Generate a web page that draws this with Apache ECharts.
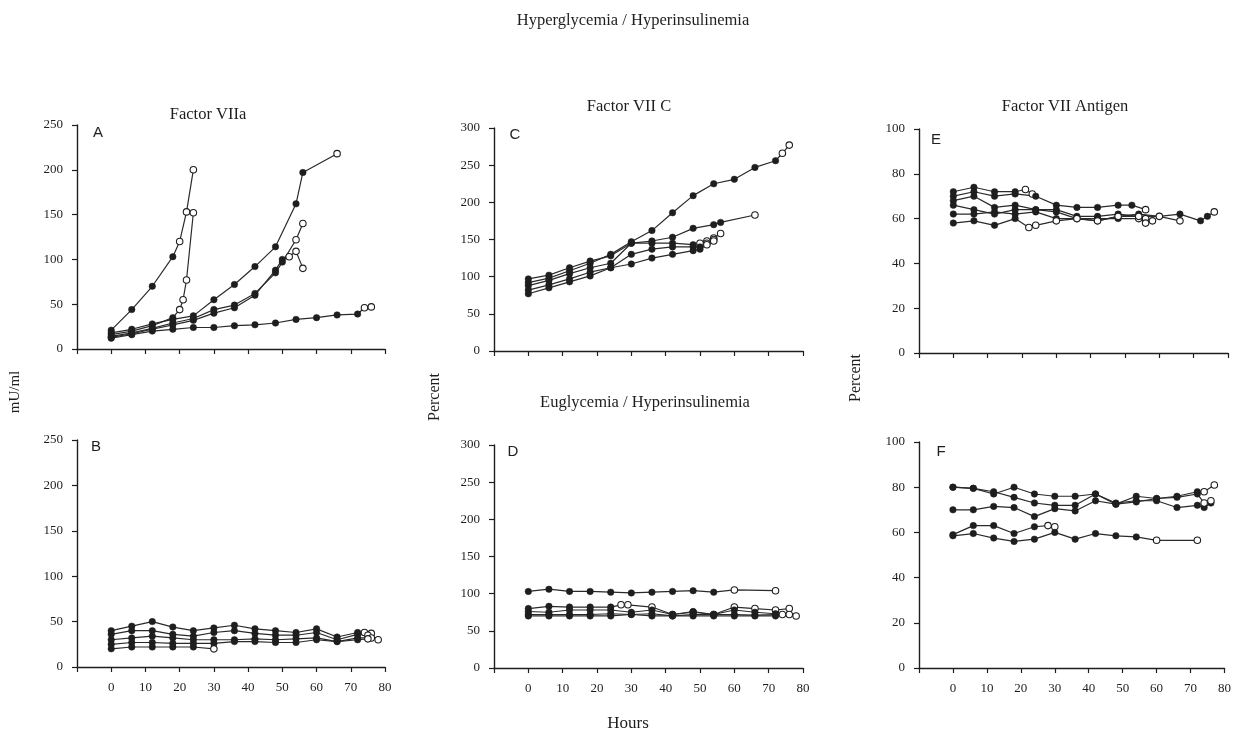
<!DOCTYPE html>
<html>
<head>
<meta charset="utf-8">
<script src="https://cdn.jsdelivr.net/npm/echarts@6/dist/echarts.min.js"></script>
<style>
html,body{margin:0;padding:0;background:#fff;}
#chart{width:1234px;height:733px;}
</style>
</head>
<body>
<div id="chart"></div>
<script>
// ---------- DATA ----------
const hourTicks = [0, 10, 20, 30, 40, 50, 60, 70, 80];

// Panel A: Factor VIIa, hyperglycemia (mU/ml)
const A_hours = [
  [0, 6, 12, 18, 20, 22, 24],
  [0, 6, 12, 18, 20, 21, 22, 24],
  [0, 6, 12, 18, 24, 30, 36, 42, 48, 54, 56, 66],
  [0, 6, 12, 18, 24, 30, 36, 42, 48, 50, 52, 54, 56],
  [0, 6, 12, 18, 24, 30, 36, 42, 48, 50, 54, 56],
  [0, 6, 12, 18, 24, 30, 36, 42, 48, 54, 60, 66, 72, 74, 76]
];
const A_values = [
  [21, 44, 70, 103, 120, 153, 200],
  [16, 20, 26, 35, 44, 55, 77, 152],
  [18, 22, 28, 33, 37, 55, 72, 92, 114, 162, 197, 218],
  [13, 17, 22, 27, 32, 40, 46, 60, 88, 100, 103, 109, 90],
  [14, 18, 23, 29, 34, 44, 49, 62, 85, 97, 122, 140],
  [12, 16, 20, 22, 24, 24, 26, 27, 29, 33, 35, 38, 39, 46, 47]
];
const A_openFrom = [4, 4, 11, 10, 10, 13];

// Panel B: Factor VIIa, euglycemia (mU/ml)
const B_hours = [
  [0, 6, 12, 18, 24, 30, 36, 42, 48, 54, 60, 66, 72, 74, 76],
  [0, 6, 12, 18, 24, 30, 36, 42, 48, 54, 60, 66, 72, 75],
  [0, 6, 12, 18, 24, 30, 36, 42, 48, 54, 60, 66, 72, 76, 78],
  [0, 6, 12, 18, 24, 30, 36, 42, 48, 54, 60, 66, 72, 75],
  [0, 6, 12, 18, 24, 30]
];
const B_values = [
  [40, 45, 50, 44, 40, 43, 46, 42, 40, 38, 42, 33, 38, 38, 37],
  [36, 40, 40, 36, 34, 38, 40, 37, 35, 35, 38, 30, 36, 35],
  [30, 32, 34, 32, 30, 30, 30, 31, 30, 31, 32, 28, 32, 32, 30],
  [25, 27, 27, 26, 26, 26, 28, 28, 27, 27, 30, 28, 30, 31],
  [20, 22, 22, 22, 22, 20]
];
const B_openFrom = [13, 13, 13, 13, 5];

// Panel C: Factor VII C, hyperglycemia (Percent)
const C_hours = [
  [0, 6, 12, 18, 24, 30, 36, 42, 48, 54, 60, 66, 72, 74, 76],
  [0, 6, 12, 18, 24, 30, 36, 42, 48, 54, 56, 66],
  [0, 6, 12, 18, 24, 30, 36, 42, 48, 50, 52, 54, 56],
  [0, 6, 12, 18, 24, 30, 36, 42, 48, 50, 52, 54],
  [0, 6, 12, 18, 24, 30, 36, 42, 48, 50, 52, 54]
];
const C_values = [
  [92, 98, 108, 118, 130, 147, 162, 186, 209, 225, 231, 247, 256, 266, 277],
  [97, 102, 112, 121, 128, 145, 148, 153, 165, 170, 173, 183],
  [88, 95, 104, 112, 118, 145, 145, 145, 143, 145, 148, 152, 158],
  [82, 89, 97, 106, 112, 130, 137, 140, 140, 140, 145, 150],
  [77, 85, 93, 101, 112, 117, 125, 130, 135, 137, 143, 148]
];
const C_openFrom = [13, 11, 9, 10, 10];

// Panel D: Factor VII C, euglycemia (Percent)
const D_hours = [
  [0, 6, 12, 18, 24, 30, 36, 42, 48, 54, 60, 72],
  [0, 6, 12, 18, 24, 27, 29, 36, 42, 48, 54, 60, 66, 72, 76],
  [0, 6, 12, 18, 24, 30, 36, 42, 48, 54, 60, 66, 72, 76],
  [0, 6, 12, 18, 24, 30, 36, 42, 48, 54, 60, 66, 72, 78],
  [0, 6, 12, 18, 24, 30, 36, 42, 48, 54, 60, 66, 72, 74]
];
const D_values = [
  [103, 106, 103, 103, 102, 101, 102, 103, 104, 102, 105, 104],
  [80, 83, 82, 82, 82, 85, 85, 82, 72, 75, 72, 82, 80, 78, 80],
  [76, 75, 78, 78, 78, 75, 78, 72, 76, 72, 78, 75, 73, 72],
  [72, 72, 72, 72, 73, 72, 73, 70, 72, 72, 72, 71, 72, 70],
  [70, 70, 70, 70, 70, 72, 70, 70, 70, 70, 70, 70, 70, 72]
];
const D_openFrom = [10, 5, 13, 13, 13];

// Panel E: Factor VII Antigen, hyperglycemia (Percent)
const E_hours = [
  [0, 6, 12, 18, 21, 23],
  [0, 6, 12, 18, 24, 30, 36, 42, 48, 52, 56],
  [0, 6, 12, 18, 24, 30, 36, 42, 48, 54, 56, 58],
  [0, 6, 12, 18, 24, 30, 36, 42, 48, 54, 60, 66, 72, 74, 76],
  [0, 6, 12, 18, 24, 30, 36, 42, 48, 54, 56],
  [0, 6, 12, 18, 22, 24, 30, 36, 42, 48, 54, 60, 66]
];
const E_values = [
  [72, 74, 72, 72, 73, 71],
  [70, 72, 70, 71, 70, 66, 65, 65, 66, 66, 64],
  [68, 70, 65, 66, 64, 64, 61, 61, 62, 61, 60, 59],
  [66, 64, 62, 64, 64, 63, 60, 59, 61, 62, 61, 62, 59, 61, 63],
  [62, 62, 63, 62, 63, 60, 60, 60, 60, 60, 58],
  [58, 59, 57, 60, 56, 57, 59, 60, 59, 61, 61, 61, 59]
];
const E_openFrom = [4, 10, 10, 14, 9, 4];

// Panel F: Factor VII Antigen, euglycemia (Percent)
const F_hours = [
  [0, 6, 12, 18, 24, 30, 36, 42, 48, 54, 60, 66, 72, 74, 77],
  [0, 6, 12, 18, 24, 30, 36, 42, 48, 54, 60, 66, 72, 74, 76],
  [0, 6, 12, 18, 24, 30, 36, 42, 48, 54, 60, 66, 72, 74, 76],
  [0, 6, 12, 18, 24, 28, 30],
  [0, 6, 12, 18, 24, 30, 36, 42, 48, 54, 60, 72]
];
const F_values = [
  [80, 79.5, 77, 80, 77, 76, 76, 77, 72.5, 76, 75, 76, 78, 78, 81],
  [80, 79.5, 78, 75.5, 73, 72, 72, 77, 73, 74, 74, 71, 72, 71, 73],
  [70, 70, 71.5, 71, 67, 70.5, 69.5, 74, 72.5, 73.5, 75, 75.5, 77, 73, 74],
  [59, 63, 63, 59.5, 62.5, 63, 62.5],
  [58.5, 59.5, 57.5, 56, 57, 60, 57, 59.5, 58.5, 58, 56.5, 56.5]
];
const F_openFrom = [13, 15, 13, 5, 10];

// ---------- CHART ----------
const serif = 'Liberation Serif';
const sans = 'Liberation Sans';
const ink = '#1e1e1e';

const panels = [
  {hours: A_hours, values: A_values, open: A_openFrom, max: 250, step: 50, labels: false,
   grid: {left: 77, top: 125, width: 308, height: 224}},
  {hours: B_hours, values: B_values, open: B_openFrom, max: 250, step: 50, labels: true,
   grid: {left: 77, top: 440, width: 308, height: 227}},
  {hours: C_hours, values: C_values, open: C_openFrom, max: 300, step: 50, labels: false,
   grid: {left: 494, top: 128, width: 309, height: 223}},
  {hours: D_hours, values: D_values, open: D_openFrom, max: 300, step: 50, labels: true,
   grid: {left: 494, top: 445, width: 309, height: 223}},
  {hours: E_hours, values: E_values, open: E_openFrom, max: 100, step: 20, labels: false,
   grid: {left: 919, top: 129, width: 309, height: 224}},
  {hours: F_hours, values: F_values, open: F_openFrom, max: 100, step: 20, labels: true,
   grid: {left: 919, top: 442, width: 309, height: 226}}
];

const grids = [], xAxes = [], yAxes = [], series = [];
panels.forEach((p, i) => {
  grids.push(Object.assign({containLabel: false}, p.grid));
  xAxes.push({
    type: 'value', gridIndex: i, min: -10, max: 80, interval: 10,
    axisLine: {show: true, onZero: false, lineStyle: {color: ink, width: 1.4}},
    axisTick: {show: true, length: 5, lineStyle: {color: ink, width: 1.2}},
    axisLabel: {show: p.labels, margin: 14, fontFamily: serif, fontSize: 13, color: ink,
      formatter: v => (hourTicks.indexOf(v) >= 0 ? String(v) : '')},
    splitLine: {show: false}
  });
  yAxes.push({
    type: 'value', gridIndex: i, min: 0, max: p.max, interval: p.step,
    axisLine: {show: true, onZero: false, lineStyle: {color: ink, width: 1.4}},
    axisTick: {show: true, length: 5, lineStyle: {color: ink, width: 1.2}},
    axisLabel: {margin: 14, fontFamily: serif, fontSize: 13, color: ink},
    splitLine: {show: false}
  });
  p.hours.forEach((hs, s) => {
    const data = hs.map((h, k) => {
      const isOpen = k >= p.open[s];
      return {
        value: [h, p.values[s][k]],
        itemStyle: isOpen
          ? {color: '#ffffff', borderColor: ink, borderWidth: 1.1}
          : {color: ink, borderColor: ink, borderWidth: 0.5}
      };
    });
    series.push({
      type: 'line', xAxisIndex: i, yAxisIndex: i, data: data,
      symbol: 'circle', symbolSize: 6.5, showSymbol: true,
      lineStyle: {color: '#2a2a2a', width: 1.2},
      emphasis: {disabled: true}, silent: true, z: 3
    });
  });
});

function txt(x, y, text, opts) {
  return {
    type: 'text', x: x, y: y, silent: true,
    style: Object.assign({text: text, fill: ink, fontFamily: serif, fontSize: 16.5,
      textAlign: 'center', textVerticalAlign: 'middle'}, opts || {})
  };
}

const graphics = [
  txt(633, 21, 'Hyperglycemia / Hyperinsulinemia'),
  txt(208, 115, 'Factor VIIa'),
  txt(629, 107, 'Factor VII C'),
  txt(1065, 107, 'Factor VII Antigen'),
  txt(645, 403, 'Euglycemia / Hyperinsulinemia'),
  txt(628, 724, 'Hours', {fontSize: 17}),
  txt(98, 133, 'A', {fontFamily: sans, fontSize: 15}),
  txt(96, 447, 'B', {fontFamily: sans, fontSize: 15}),
  txt(515, 135, 'C', {fontFamily: sans, fontSize: 15}),
  txt(513, 452, 'D', {fontFamily: sans, fontSize: 15}),
  txt(936, 140, 'E', {fontFamily: sans, fontSize: 15}),
  txt(941, 452, 'F', {fontFamily: sans, fontSize: 15}),
  Object.assign(txt(0, 0, 'mU/ml', {fontSize: 15}), {x: 15, y: 392, rotation: Math.PI / 2}),
  Object.assign(txt(0, 0, 'Percent', {fontSize: 16}), {x: 435, y: 397, rotation: Math.PI / 2}),
  Object.assign(txt(0, 0, 'Percent', {fontSize: 16}), {x: 856, y: 378, rotation: Math.PI / 2})
];

const chart = echarts.init(document.getElementById('chart'), null, {renderer: 'canvas'});
chart.setOption({
  backgroundColor: '#ffffff',
  animation: false,
  grid: grids,
  xAxis: xAxes,
  yAxis: yAxes,
  series: series,
  graphic: graphics
});
</script>
</body>
</html>
